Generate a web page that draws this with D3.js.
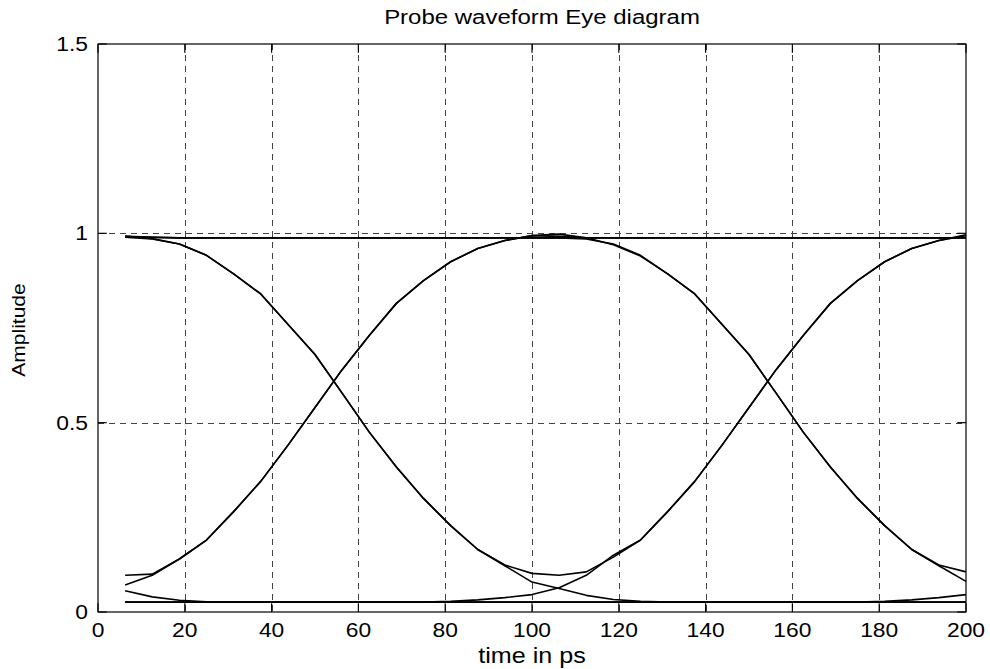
<!DOCTYPE html>
<html>
<head>
<meta charset="utf-8">
<script src="https://cdn.jsdelivr.net/npm/d3@7/dist/d3.min.js"></script>
<style>
  html, body { margin: 0; padding: 0; background: #fff; }
  svg { display: block; }
  text { font-family: "Liberation Sans", Arial, Helvetica, sans-serif; fill: #000; }
</style>
</head>
<body>
<svg id="chart" width="990" height="669"></svg>
<script>
// ---- data ----
const timePs = [6.25,12.5,18.75,25,31.25,37.5,43.75,50,56.25,62.5,68.75,75,81.25,87.5,93.75,100,
                106.25,112.5,118.75,125,131.25,137.5,143.75,150,156.25,162.5,168.75,175,181.25,187.5,193.75,200];

const traceHigh = [0.990,0.989,0.988,0.988,0.988,0.988,0.988,0.988,0.988,0.988,0.988,0.988,0.988,0.988,0.988,0.988,
                   0.988,0.988,0.988,0.988,0.988,0.988,0.988,0.988,0.988,0.988,0.988,0.988,0.988,0.988,0.988,0.988];
const traceLow = [0.026,0.026,0.026,0.026,0.026,0.026,0.026,0.026,0.026,0.026,0.026,0.026,0.026,0.026,0.026,0.026,
                  0.026,0.026,0.026,0.026,0.026,0.026,0.026,0.026,0.026,0.026,0.026,0.026,0.026,0.026,0.026,0.026];
const traceFallLow = [0.990,0.985,0.972,0.942,0.893,0.840,0.760,0.680,0.578,0.475,0.383,0.300,0.228,0.165,0.122,0.079,
                      0.062,0.044,0.033,0.028,0.026,0.026,0.026,0.026,0.026,0.026,0.026,0.026,0.026,0.026,0.026,0.026];
const traceFallRise = [0.993,0.986,0.972,0.942,0.893,0.840,0.760,0.680,0.578,0.475,0.383,0.300,0.228,0.165,0.124,0.102,
                       0.097,0.106,0.145,0.190,0.265,0.345,0.440,0.540,0.640,0.730,0.815,0.875,0.925,0.960,0.981,0.994];
const traceLowRise = [0.056,0.040,0.031,0.027,0.026,0.026,0.026,0.026,0.026,0.026,0.026,0.026,0.028,0.032,0.038,0.046,
                      0.064,0.097,0.150,0.190,0.265,0.345,0.440,0.540,0.640,0.730,0.815,0.875,0.925,0.960,0.981,0.996];
const tracePulse = [0.097,0.100,0.140,0.190,0.265,0.345,0.440,0.540,0.640,0.730,0.815,0.875,0.925,0.960,0.981,0.994,
                    0.998,0.988,0.970,0.940,0.893,0.840,0.760,0.680,0.578,0.475,0.383,0.300,0.228,0.165,0.124,0.106];
const traceRiseHigh = [0.071,0.097,0.140,0.190,0.265,0.345,0.440,0.540,0.640,0.730,0.815,0.875,0.925,0.960,0.981,0.994,
                       0.992,0.988,0.988,0.988,0.988,0.988,0.988,0.988,0.988,0.988,0.988,0.988,0.988,0.988,0.988,0.988];
const traceHighFall = [0.992,0.990,0.988,0.988,0.988,0.988,0.988,0.988,0.988,0.988,0.988,0.988,0.988,0.988,0.988,0.988,
                       0.988,0.985,0.972,0.942,0.893,0.840,0.760,0.680,0.578,0.475,0.383,0.300,0.228,0.165,0.122,0.081];
const traceLowTail = [0.026,0.026,0.026,0.026,0.026,0.026,0.026,0.026,0.026,0.026,0.026,0.026,0.026,0.026,0.026,0.026,
                      0.026,0.026,0.026,0.026,0.026,0.026,0.026,0.026,0.026,0.026,0.026,0.026,0.028,0.032,0.038,0.046];

const traces = [traceHigh, traceLow, traceFallLow, traceFallRise, traceLowRise, tracePulse, traceRiseHigh, traceHighFall, traceLowTail];

const xTicks = [0,20,40,60,80,100,120,140,160,180,200];
const yTicks = [0,0.5,1,1.5];
const yTickLabels = ["0","0.5","1","1.5"];
const titleText = "Probe waveform Eye diagram";
const xLabelText = "time in ps";
const yLabelText = "Amplitude";

// ---- layout ----
const L = 98, T = 44, R = 966, B = 612;
const SX = 1.17; // horizontal text stretch
const svg = d3.select("#chart");

const x = d3.scaleLinear().domain([0, 200]).range([L, R]);
const y = d3.scaleLinear().domain([0, 1.5]).range([B, T]);

// grid
const grid = svg.append("g");
grid.selectAll("line.vx").data(xTicks.filter(d => d > 0 && d < 200)).join("line")
  .attr("x1", d => Math.round(x(d)) + 0.5).attr("x2", d => Math.round(x(d)) + 0.5)
  .attr("y1", T).attr("y2", B)
  .attr("stroke", "#444").attr("stroke-width", 1).attr("stroke-dasharray", "6,5");
grid.selectAll("line.hy").data(yTicks.filter(d => d > 0 && d < 1.5)).join("line")
  .attr("y1", d => Math.round(y(d)) + 0.5).attr("y2", d => Math.round(y(d)) + 0.5)
  .attr("x1", L).attr("x2", R)
  .attr("stroke", "#444").attr("stroke-width", 1).attr("stroke-dasharray", "6,5");

// traces
const line = d3.line().x((d, i) => x(timePs[i])).y(d => y(d));
svg.append("g").selectAll("path").data(traces).join("path")
  .attr("d", d => line(d))
  .attr("fill", "none").attr("stroke", "#000").attr("stroke-width", 1.6)
  .attr("stroke-linejoin", "round");

// axes box + ticks (inward, all sides)
const tl = 8.7;
const axesG = svg.append("g").attr("stroke", "#000").attr("stroke-width", 1.2);
axesG.append("rect").attr("x", L).attr("y", T).attr("width", R - L).attr("height", B - T).attr("fill", "none");
xTicks.forEach(d => {
  const xx = x(d);
  axesG.append("line").attr("x1", xx).attr("x2", xx).attr("y1", B).attr("y2", B - tl);
  axesG.append("line").attr("x1", xx).attr("x2", xx).attr("y1", T).attr("y2", T + tl);
});
yTicks.forEach(d => {
  const yy = y(d);
  axesG.append("line").attr("x1", L).attr("x2", L + tl).attr("y1", yy).attr("y2", yy);
  axesG.append("line").attr("x1", R).attr("x2", R - tl).attr("y1", yy).attr("y2", yy);
});

// text helper with horizontal stretch
function txt(s, px, py, anchor, size) {
  return svg.append("text")
    .attr("transform", `translate(${px},${py}) scale(${SX},1)`)
    .attr("text-anchor", anchor)
    .style("font-size", size + "px")
    .text(s);
}

xTicks.forEach(d => txt(String(d), x(d), 637, "middle", 19.5));
yTicks.forEach((d, i) => txt(yTickLabels[i], 88, y(d) + 7, "end", 19.5));

txt(titleText, (L + R) / 2 + 10, 24, "middle", 20.5);
txt(xLabelText, (L + R) / 2, 663, "middle", 21.5);
svg.append("text")
  .attr("transform", `translate(25,330) rotate(-90) scale(1,0.9)`)
  .attr("text-anchor", "middle")
  .style("font-size", "21px")
  .text(yLabelText);
</script>
</body>
</html>
